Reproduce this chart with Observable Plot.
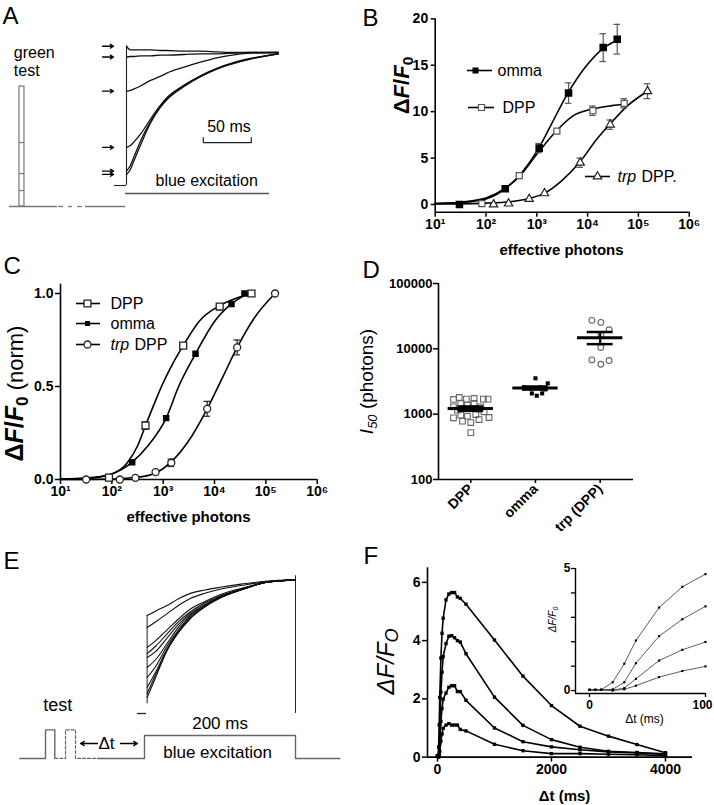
<!DOCTYPE html>
<html><head><meta charset="utf-8">
<script src="https://cdn.jsdelivr.net/npm/d3@7"></script>
<script src="https://cdn.jsdelivr.net/npm/@observablehq/plot@0.6"></script>
<style>
body{margin:0;background:#fff;}
#fig{position:relative;width:714px;height:805px;overflow:hidden;background:#fff;}
#fig svg{position:absolute;overflow:visible;}
</style></head><body><div id="fig"></div>
<script>
// ================= DATA =================
// Panel A: recorded traces (time in ms after light onset, fluorescence relative to final level)
const aTimes = [0, 4, 8, 15, 25, 35, 42, 60, 77, 94, 112, 129, 158];
const aTraces = [
  [1.047,1.02,1.02,1.02,1.02,1.015,1.015,1.01,1.01,1.005,1.0,1.0,1.0],
  [0.966,0.97,0.97,0.975,0.975,0.98,0.98,0.985,0.99,0.99,0.995,1.0,1.0],
  [0.709,0.715,0.727,0.75,0.79,0.82,0.845,0.89,0.927,0.96,0.982,0.995,1.0],
  [0.286,0.30,0.33,0.39,0.50,0.60,0.66,0.755,0.825,0.88,0.925,0.955,0.99],
  [0.108,0.15,0.22,0.34,0.48,0.59,0.652,0.748,0.82,0.877,0.92,0.952,0.99],
  [0.083,0.12,0.19,0.31,0.47,0.585,0.645,0.745,0.818,0.875,0.918,0.95,0.99]
];
const aArrowLevels = [1.047, 0.966, 0.709, 0.286, 0.108, 0.083];
const aStimBar = {t1: -111.5, t2: -106.3, f1: -0.158, f2: 0.744};
const aStimSteps = [0.323, 0.09, -0.038];
const aBaseSolid = [[-121.9, -71.9], [-42.7, -1]];
const aBaseDashes = [[-70.8, -65.6], [-60.4, -56.3], [-51, -45.8]];
const aScaleBar = [[80, 0.36], [80, 0.323], [130, 0.323], [130, 0.36]];

// Panel B: ΔF/F0 vs effective photons
const decadeTicks = [1e1, 1e2, 1e3, 1e4, 1e5, 1e6];
const bOmmaX = [30, 239, 1114, 4217, 20290, 38300];
const bOmmaY = [0, 1.7, 6.07, 12.0, 16.9, 17.8];
const bOmmaErr = [0, 0, 0.5, 1.1, 1.5, 1.6];
const bDppX = [83, 451, 2483, 12700, 52500];
const bDppY = [0.1, 3.1, 7.9, 10.1, 10.9];
const bDppErr = [0, 0, 0, 0.5, 0.5];
const bTrpX = [141, 278, 708, 1419, 7145, 27860, 151000];
const bTrpY = [0, 0.1, 0.6, 1.2, 4.5, 8.6, 12.2];
const bTrpErr = [0, 0, 0, 0, 0.5, 0.5, 0.8];
const bFitOmma = [[10,0.1],[30,0.2],[100,0.6],[240,1.7],[500,3.4],[1100,6.1],[2000,8.8],[4200,12.1],[10000,15.1],[20000,16.8],[38000,17.7]];
const bFitDpp = [[10,0.1],[30,0.25],[100,0.7],[240,1.75],[450,3.0],[1100,5.7],[2500,8.0],[5000,9.5],[12700,10.3],[30000,10.65],[52500,10.8]];
const bFitTrp = [[10,0.05],[100,0.15],[300,0.3],[700,0.65],[1400,1.2],[3000,2.5],[7100,4.6],[15000,7.0],[28000,8.7],[60000,10.6],[151000,12.2]];
const bYTicks = [0, 5, 10, 15, 20];

// Panel C: normalised
const cDppX = [88, 453, 2455, 12600, 52500];
const cDppY = [0.01, 0.29, 0.72, 0.93, 1.0];
const cDppErr = [0, 0.02, 0.01, 0, 0];
const cOmmaX = [249, 1143, 4265, 21400, 38300];
const cOmmaY = [0.093, 0.33, 0.676, 0.944, 1.0];
const cTrpX = [31.6, 143, 288, 711, 1440, 7200, 27600, 151000];
const cTrpY = [0, 0, 0.009, 0.04, 0.09, 0.38, 0.71, 1.0];
const cTrpErr = [0, 0, 0, 0, 0.02, 0.04, 0.04, 0];
const cFitDpp = [[10,0.003],[31.6,0.008],[100,0.03],[200,0.09],[316,0.18],[453,0.29],[700,0.42],[1000,0.52],[1585,0.63],[2455,0.72],[5000,0.85],[12600,0.935],[30000,0.98],[52500,1.0]];
const cFitOmma = [[10,0.002],[31.6,0.006],[100,0.03],[249,0.093],[500,0.18],[1143,0.33],[2000,0.5],[4265,0.676],[10000,0.85],[21400,0.944],[38300,0.99]];
const cFitTrp = [[10,0.0],[100,0.003],[316,0.012],[711,0.035],[1440,0.095],[3000,0.2],[7200,0.38],[15000,0.56],[27600,0.71],[60000,0.87],[151000,1.0]];
const cYTicks = [0, 0.5, 1.0];

// Panel D: I50 scatter
const dCats = ["DPP", "omma", "trp (DPP)"];
const dTicks = [100, 1000, 10000, 100000];
const dDppOff = [-0.267,-0.179,-0.067,0.051,0.195,0.267,-0.267,-0.154,-0.051,0.051,0.154,-0.205,-0.103,0.026,0.128,0.205,-0.267,-0.154,-0.051,0.077,0.282,-0.128,0,0.128,0];
const dDppVal = [1682,1803,1701,1742,1701,1701,1297,1459,1375,1459,1297,1153,1222,1222,1180,1087,879,966,932,988,889,780,745,828,522];
const dOmmaOff = [0, 0.19, -0.18, -0.09, 0.077, 0.15, -0.056, 0.02, 0.103];
const dOmmaVal = [3538, 2964, 2573, 2484, 2573, 2396, 2080, 1915, 2080];
const dTrpOff = [-0.128, 0.01, 0.138, 0.01, 0.01, -0.128, 0.01, 0.138];
const dTrpVal = [27300, 25400, 19600, 16400, 10500, 6770, 5810, 6620];
const dMean = [1220, 2510, 14800];
const dSemLo = [1130, 2380, 11800];
const dSemHi = [1310, 2650, 18100];

// Panel E: traces after different Δt (time ms from excitation onset)
const eTimes = [3.5, 15, 30, 45, 60, 80, 100, 130, 160, 200];
const eTraces = [
  [0.726,0.76,0.80,0.85,0.888,0.915,0.935,0.96,0.98,0.99],
  [0.637,0.68,0.74,0.80,0.85,0.89,0.92,0.95,0.975,0.99],
  [0.489,0.54,0.62,0.70,0.77,0.83,0.88,0.93,0.97,0.99],
  [0.444,0.50,0.59,0.68,0.75,0.82,0.87,0.925,0.97,0.99],
  [0.415,0.46,0.56,0.66,0.74,0.81,0.865,0.925,0.97,0.99],
  [0.341,0.40,0.52,0.64,0.73,0.80,0.86,0.92,0.97,0.99],
  [0.267,0.35,0.50,0.62,0.72,0.80,0.86,0.92,0.97,0.99],
  [0.193,0.31,0.48,0.61,0.71,0.795,0.857,0.92,0.97,0.99],
  [0.148,0.29,0.47,0.60,0.70,0.79,0.855,0.92,0.97,0.99],
  [0.119,0.27,0.467,0.60,0.70,0.79,0.855,0.92,0.97,0.99]
];
const eStimSolid1 = [[-165.2,-0.333],[-131.1,-0.333],[-131.1,-0.121],[-118.8,-0.121],[-118.8,-0.333]];
const eStimDashed = [[-118.8,-0.333],[-104.6,-0.333],[-104.6,-0.121],[-91.4,-0.121],[-91.4,-0.333],[-60.5,-0.333]];
const eStimSolid2 = [[-60.5,-0.333],[0,-0.333],[0,-0.163],[200,-0.163],[200,-0.333],[258.7,-0.333]];

// Panel F: ΔF/F0 vs Δt
const fT = [0,5,10,20,30,40,60,80,100,150,200,250,300,350,400,500,1000,1500,2000,2500,3000,3500,4000];
const fS1 = [0.03,0.03,0.03,0.34,1.1,2.05,3.4,4.25,4.77,5.4,5.6,5.65,5.65,5.5,5.45,5.25,4.02,2.78,1.77,1.06,0.72,0.43,0.15];
const fS2 = [0.03,0.03,0.03,0.05,0.34,1.12,2.23,2.92,3.45,3.9,4.15,4.17,4.1,4.0,3.95,3.55,2.06,1.09,0.6,0.34,0.2,0.16,0.11];
const fS3 = [0.03,0.03,0.03,0.02,0.1,0.48,1.23,1.67,1.99,2.2,2.4,2.45,2.45,2.25,2.25,1.95,1.0,0.53,0.35,0.25,0.18,0.14,0.1];
const fS4 = [0.03,0.03,0.03,0.0,0.05,0.2,0.55,0.8,0.99,1.1,1.15,1.1,1.1,1.1,0.95,0.9,0.44,0.22,0.12,0.12,0.1,0.08,0.05];
const fXTicks = [0, 2000, 4000];
const fYTicks = [0, 2, 4, 6];
const fInXTicks = [0, 100];
const fInYTicks = [0, 1, 2, 3, 4, 5];

// ================= HELPERS =================
const FONT = '"Liberation Sans", Arial, Helvetica, sans-serif';
const fig = document.getElementById("fig");
const baseStyle = {fontFamily: FONT, background: "transparent", overflow: "visible", color: "black"};
function frameBox(left, top, width, height, fx0, fx1, fy0, fy1) {
  return {width, height, marginLeft: fx0 - left, marginRight: left + width - fx1, marginTop: fy0 - top, marginBottom: top + height - fy1};
}
function place(svg, left, top) {
  svg.style.position = "absolute"; svg.style.left = left + "px"; svg.style.top = top + "px";
  fig.appendChild(svg);
}
const sup = {1:"¹",2:"²",3:"³",4:"⁴",5:"⁵",6:"⁶"};
const fmtDecade = d => "10" + sup[Math.round(Math.log10(d))];
const pts = (xs, ys, es) => xs.map((x, i) => ({x, y: ys[i], e: es ? es[i] : 0}));
function errMarks(data, capF, stroke) {
  const d = data.filter(p => p.e > 0);
  const caps = d.flatMap(p => [{x: p.x, y: p.y + p.e}, {x: p.x, y: p.y - p.e}]);
  return [
    Plot.ruleX(d, {x: "x", y1: p => p.y - p.e, y2: p => p.y + p.e, stroke, strokeWidth: 1.2}),
    Plot.ruleY(caps, {y: "y", x1: p => p.x / capF, x2: p => p.x * capF, stroke, strokeWidth: 1.2})
  ];
}
function rich(svg, plain, html) {
  svg.querySelectorAll("text").forEach(t => { if (t.textContent === plain) t.innerHTML = html; });
}

// ================= PANEL A =================
{
  const rows = aTraces.flatMap((tr, k) => tr.map((v, i) => ({k, t: aTimes[i], f: v})));
  const svg = Plot.plot({
    ...frameBox(0, 30, 300, 190, 6, 279.6, 38.7, 211.6),
    x: {domain: [-125, 160], axis: null},
    y: {domain: [-0.2, 1.1], axis: null},
    style: baseStyle,
    marks: [
      Plot.rect([aStimBar], {x1: "t1", x2: "t2", y1: "f1", y2: "f2", fill: "none", stroke: "#777", strokeWidth: 1.2}),
      Plot.ruleY(aStimSteps, {x1: () => aStimBar.t1, x2: () => aStimBar.t2, stroke: "#777", strokeWidth: 1.2}),
      Plot.ruleY(aBaseSolid, {y: () => aStimBar.f1, x1: d => d[0], x2: d => d[1], stroke: "#777", strokeWidth: 1.3}),
      Plot.ruleY(aBaseDashes, {y: () => aStimBar.f1, x1: d => d[0], x2: d => d[1], stroke: "#777", strokeWidth: 1.3}),
      Plot.ruleX([0], {y1: 0, y2: 1.05, stroke: "#222", strokeWidth: 1.1}),
      Plot.ruleY([0], {x1: -12.5, x2: 0, stroke: "#222", strokeWidth: 1.1}),
      Plot.line(rows, {x: "t", y: "f", z: "k", curve: "monotone-x", stroke: "#111", strokeWidth: 1.3}),
      Plot.arrow(aArrowLevels, {x1: () => -25, x2: () => -13.5, y1: d => d, y2: d => d, headLength: 5, strokeWidth: 1.3, stroke: "black"}),
      Plot.line(aScaleBar, {x: d => d[0], y: d => d[1], stroke: "#222", strokeWidth: 1.2}),
      Plot.ruleY([-0.06], {x1: -1, x2: 149, stroke: "#555", strokeWidth: 1.3})
    ]
  });
  place(svg, 0, 30);
}

// ================= PANEL B =================
{
  const om = pts(bOmmaX, bOmmaY, bOmmaErr), dp = pts(bDppX, bDppY, bDppErr), tr = pts(bTrpX, bTrpY, bTrpErr);
  const svg = Plot.plot({
    ...frameBox(357, 0, 357, 262, 434.7, 688.7, 18.3, 211.7),
    x: {type: "log", domain: [10, 1e6]},
    y: {domain: [-0.83, 20]},
    style: baseStyle,
    marks: [
      Plot.axisX({ticks: decadeTicks, tickFormat: fmtDecade, tickSize: 5, tickPadding: 2, fontSize: 14, fontWeight: "bold", strokeWidth: 1.5, label: null}),
      Plot.axisY({ticks: bYTicks, tickSize: 4, tickPadding: 3, fontSize: 14, fontWeight: "bold", strokeWidth: 1.5, label: null}),
      Plot.ruleX([10], {strokeWidth: 1.6}),
      Plot.ruleY([-0.83], {strokeWidth: 1.6}),
      Plot.line(bFitOmma, {x: d => d[0], y: d => d[1], curve: "monotone-x", strokeWidth: 1.6}),
      Plot.line(bFitDpp, {x: d => d[0], y: d => d[1], curve: "monotone-x", strokeWidth: 1.6}),
      Plot.line(bFitTrp, {x: d => d[0], y: d => d[1], curve: "monotone-x", strokeWidth: 1.6}),
      ...errMarks(om, 1.16, "#555"), ...errMarks(dp, 1.16, "#555"), ...errMarks(tr, 1.16, "#555"),
      Plot.dot(dp, {x: "x", y: "y", symbol: "square", r: 3.4, fill: "white", stroke: "#555", strokeWidth: 1.2}),
      Plot.dot(tr, {x: "x", y: "y", symbol: "triangle", r: 3.1, fill: "white", stroke: "#222", strokeWidth: 1.2}),
      Plot.dot(om, {x: "x", y: "y", symbol: "square", r: 3.4, fill: "black", stroke: "black"})
    ]
  });
  place(svg, 357, 0);
}

// ================= PANEL C =================
{
  const om = pts(cOmmaX, cOmmaY), dp = pts(cDppX, cDppY, cDppErr), tr = pts(cTrpX, cTrpY, cTrpErr);
  const svg = Plot.plot({
    ...frameBox(0, 255, 357, 275, 60, 316.7, 283.7, 479),
    x: {type: "log", domain: [10, 1e6]},
    y: {domain: [0, 1.05]},
    style: baseStyle,
    marks: [
      Plot.axisX({ticks: decadeTicks, tickFormat: fmtDecade, tickSize: 5, tickPadding: 2, fontSize: 14, fontWeight: "bold", strokeWidth: 1.5, label: null}),
      Plot.axisY({ticks: cYTicks, tickFormat: d => d.toFixed(1), tickSize: 5, tickPadding: 2, fontSize: 14, fontWeight: "bold", strokeWidth: 1.5, label: null}),
      Plot.ruleX([10], {strokeWidth: 1.6}),
      Plot.ruleY([0], {strokeWidth: 1.6}),
      Plot.line(cFitDpp, {x: d => d[0], y: d => d[1], curve: "monotone-x", strokeWidth: 1.6}),
      Plot.line(cFitOmma, {x: d => d[0], y: d => d[1], curve: "monotone-x", strokeWidth: 1.6}),
      Plot.line(cFitTrp, {x: d => d[0], y: d => d[1], curve: "monotone-x", strokeWidth: 1.6}),
      ...errMarks(dp, 1.16, "#222"), ...errMarks(tr, 1.16, "#222"),
      Plot.dot(dp, {x: "x", y: "y", symbol: "square", r: 3.9, fill: "white", stroke: "#222", strokeWidth: 1.3}),
      Plot.dot(tr, {x: "x", y: "y", symbol: "circle", r: 3.5, fill: "white", stroke: "#222", strokeWidth: 1.3}),
      Plot.dot(om, {x: "x", y: "y", symbol: "square", r: 2.8, fill: "black", stroke: "black"})
    ]
  });
  place(svg, 0, 255);
}

// ================= PANEL D =================
{
  const dp = dDppOff.map((o, i) => ({x: 0 + o, y: dDppVal[i]}));
  const om = dOmmaOff.map((o, i) => ({x: 1 + o, y: dOmmaVal[i]}));
  const tr = dTrpOff.map((o, i) => ({x: 2 + o, y: dTrpVal[i]}));
  const stats = dCats.map((c, i) => ({i, mean: dMean[i], lo: dSemLo[i], hi: dSemHi[i]}));
  const svg = Plot.plot({
    ...frameBox(340, 270, 374, 290, 438, 633, 283, 479),
    x: {domain: [-0.499, 2.515]},
    y: {type: "log", domain: [100, 100000]},
    style: baseStyle,
    marks: [
      Plot.axisY({ticks: dTicks, tickFormat: d => String(d), tickSize: 5, tickPadding: 1, fontSize: 13, fontWeight: "bold", strokeWidth: 1.5, label: null}),
      Plot.axisX({ticks: [0, 1, 2], tickFormat: i => dCats[i], tickRotate: -45, tickSize: 4, tickPadding: 3, fontSize: 14, fontWeight: "bold", strokeWidth: 1.5, label: null}),
      Plot.ruleX([-0.499], {strokeWidth: 1.6}),
      Plot.ruleY([100], {strokeWidth: 1.6}),
      Plot.dot(dp, {x: "x", y: "y", symbol: "square", r: 3.2, fill: "none", stroke: "#666", strokeWidth: 1.1}),
      Plot.dot(om, {x: "x", y: "y", symbol: "square", r: 2.3, fill: "black"}),
      Plot.dot(tr, {x: "x", y: "y", symbol: "circle", r: 2.9, fill: "none", stroke: "#666", strokeWidth: 1.1}),
      Plot.ruleX(stats, {x: "i", y1: "lo", y2: "hi", strokeWidth: 2.2}),
      Plot.ruleY(stats, {y: "lo", x1: d => d.i - 0.2, x2: d => d.i + 0.2, strokeWidth: 2.5}),
      Plot.ruleY(stats, {y: "hi", x1: d => d.i - 0.2, x2: d => d.i + 0.2, strokeWidth: 2.5}),
      Plot.ruleY(stats, {y: "mean", x1: d => d.i - 0.35, x2: d => d.i + 0.35, strokeWidth: 3})
    ]
  });
  place(svg, 340, 270);
}

// ================= PANEL E =================
{
  const rows = eTraces.flatMap((tr, k) => tr.map((v, i) => ({k, t: eTimes[i], f: v})));
  const svg = Plot.plot({
    ...frameBox(0, 550, 357, 230, 15.65, 341.8, 564.5, 767),
    x: {domain: [-170, 262], axis: null},
    y: {domain: [-0.4, 1.1], axis: null},
    style: baseStyle,
    marks: [
      Plot.line(eStimSolid1, {x: d => d[0], y: d => d[1], stroke: "#666", strokeWidth: 1.4}),
      Plot.line(eStimDashed, {x: d => d[0], y: d => d[1], stroke: "#666", strokeWidth: 1.2, strokeDasharray: "3,2"}),
      Plot.line(eStimSolid2, {x: d => d[0], y: d => d[1], stroke: "#666", strokeWidth: 1.4}),
      Plot.ruleX([3.5], {y1: 0.072, y2: 0.726, stroke: "#222", strokeWidth: 1}),
      Plot.ruleX([200], {y1: 0, y2: 1.02, stroke: "#222", strokeWidth: 1}),
      Plot.ruleY([0], {x1: -9.3, x2: 2.6, stroke: "#222", strokeWidth: 1.3}),
      Plot.line(rows, {x: "t", y: "f", z: "k", curve: "monotone-x", stroke: "#111", strokeWidth: 1.1})
    ]
  });
  place(svg, 0, 550);
}

// ================= PANEL F =================
const fSeries = [fS1, fS2, fS3, fS4];
{
  const rows = fSeries.flatMap((s, k) => s.map((v, i) => ({k, t: fT[i], f: v})));
  const svg = Plot.plot({
    ...frameBox(357, 540, 357, 265, 427, 692, 567.3, 756.6),
    x: {domain: [-175, 4474]},
    y: {domain: [0, 6.5]},
    style: baseStyle,
    marks: [
      Plot.axisX({ticks: fXTicks, tickSize: 5, tickPadding: 2, fontSize: 14, fontWeight: "bold", strokeWidth: 1.5, label: null, tickFormat: d => String(d)}),
      Plot.axisY({ticks: fYTicks, tickSize: 5, tickPadding: 2, fontSize: 14, fontWeight: "bold", strokeWidth: 1.5, label: null, tickFormat: d => String(d)}),
      Plot.ruleX([-175], {strokeWidth: 1.6}),
      Plot.ruleY([0], {strokeWidth: 1.6}),
      Plot.line(rows, {x: "t", y: "f", z: "k", strokeWidth: 1.6}),
      Plot.dot(rows, {x: "t", y: "f", symbol: "square", r: 1.9, fill: "black"})
    ]
  });
  place(svg, 357, 540);
}
{
  const rows = fSeries.flatMap((s, k) => s.map((v, i) => ({k, t: fT[i], f: v}))).filter(d => d.t <= 100);
  const svg = Plot.plot({
    ...frameBox(540, 560, 174, 170, 575, 705, 568, 693),
    x: {domain: [-12.07, 100]},
    y: {domain: [-0.12, 5]},
    style: baseStyle,
    marks: [
      Plot.axisX({ticks: fInXTicks, tickSize: 4, strokeWidth: 1.3, label: null, tickFormat: () => ""}),
      Plot.text([fInXTicks[0]], {x: d => d, y: () => -0.12, dy: 12, fontSize: 12, fontWeight: "bold", text: d => String(d)}),
      Plot.text([fInXTicks[1]], {x: d => d, y: () => -0.12, dy: 12, dx: -3, fontSize: 12, fontWeight: "bold", text: d => String(d)}),
      Plot.axisY({ticks: fInYTicks, tickFormat: d => (d === 0 || d === 5) ? String(d) : "", tickSize: 4, tickPadding: 1, fontSize: 12, fontWeight: "bold", strokeWidth: 1.3, label: null}),
      Plot.ruleX([-12.07], {strokeWidth: 1.4}),
      Plot.ruleY([-0.12], {strokeWidth: 1.4}),
      Plot.line(rows, {x: "t", y: "f", z: "k", stroke: "#333", strokeWidth: 0.8}),
      Plot.dot(rows, {x: "t", y: "f", symbol: "square", r: 1.2, fill: "black"})
    ]
  });
  place(svg, 540, 560);
}

// ================= ANNOTATIONS (pixel coordinates) =================
{
  const T = (x, y, text, o = {}) => Plot.text([{x, y, text}], {x: "x", y: "y", text: "text", textAnchor: "start", lineAnchor: "bottom", fontSize: 16, fill: "black", ...o});
  const legLines = [
    {x1: 467, x2: 492, y: 70}, {x1: 468, x2: 494, y: 107}, {x1: 585, x2: 610, y: 176},
    {x1: 76, x2: 100, y: 303}, {x1: 76, x2: 100, y: 323}, {x1: 76, x2: 100, y: 344}
  ];
  const svg = Plot.plot({
    width: 714, height: 805, margin: 0,
    x: {domain: [0, 714], range: [0, 714], axis: null},
    y: {domain: [0, 805], range: [0, 805], axis: null},
    style: baseStyle,
    marks: [
      // panel letters
      T(2, 23, "A", {fontSize: 24}), T(362, 25, "B", {fontSize: 24}), T(3, 273, "C", {fontSize: 24}),
      T(362, 277, "D", {fontSize: 24}), T(3, 568, "E", {fontSize: 24}), T(363, 563, "F", {fontSize: 24}),
      // A
      T(13.3, 57, "green"), T(13.3, 75.5, "test"), T(206.7, 131, "50 ms"), T(155, 185.5, "blue excitation"),
      // B
      Plot.ruleY(legLines, {y: "y", x1: "x1", x2: "x2", strokeWidth: 1.6}),
      Plot.dot([{x: 475, y: 70}], {x: "x", y: "y", symbol: "square", r: 3.4, fill: "black"}),
      Plot.dot([{x: 481, y: 107}], {x: "x", y: "y", symbol: "square", r: 3.4, fill: "white", stroke: "#555", strokeWidth: 1.2}),
      Plot.dot([{x: 597, y: 176}], {x: "x", y: "y", symbol: "triangle", r: 3.1, fill: "white", stroke: "#222", strokeWidth: 1.2}),
      T(497, 70, "omma", {lineAnchor: "middle"}), T(502, 107, "DPP", {lineAnchor: "middle"}),
      T(617, 176, "trp", {lineAnchor: "middle", fontStyle: "italic"}), T(641, 176, "DPP.", {lineAnchor: "middle"}),
      T(401, 85, "ΔF/F0", {textAnchor: "middle", lineAnchor: "middle", rotate: -90, fontSize: 22, fontWeight: "bold"}),
      T(561, 250, "effective photons", {textAnchor: "middle", lineAnchor: "middle", fontSize: 15, fontWeight: "bold"}),
      // C
      Plot.dot([{x: 87, y: 303}], {x: "x", y: "y", symbol: "square", r: 3.9, fill: "white", stroke: "#222", strokeWidth: 1.3}),
      Plot.dot([{x: 87, y: 323}], {x: "x", y: "y", symbol: "square", r: 2.8, fill: "black"}),
      Plot.dot([{x: 87, y: 344}], {x: "x", y: "y", symbol: "circle", r: 3.5, fill: "white", stroke: "#222", strokeWidth: 1.3}),
      T(110, 303, "DPP", {lineAnchor: "middle"}), T(110, 323, "omma", {lineAnchor: "middle"}),
      T(110, 344, "trp", {lineAnchor: "middle", fontStyle: "italic"}), T(134, 344, "DPP", {lineAnchor: "middle"}),
      T(15, 393, "ΔF/F0 (norm)", {textAnchor: "middle", lineAnchor: "middle", rotate: -90, fontSize: 22}),
      T(188, 517, "effective photons", {textAnchor: "middle", lineAnchor: "middle", fontSize: 15, fontWeight: "bold"}),
      // D
      T(366, 381, "I50 (photons)", {textAnchor: "middle", lineAnchor: "middle", rotate: -90, fontSize: 19}),
      // E
      T(42.7, 710, "test", {fontSize: 18}), T(191.7, 728, "200 ms", {fontSize: 17}),
      T(98, 748, "Δt", {fontSize: 17}), T(162.7, 757, "blue excitation", {fontSize: 17}),
      Plot.arrow([{x1: 97, x2: 80, y: 743}, {x1: 120, x2: 137, y: 743}], {x1: "x1", x2: "x2", y1: "y", y2: "y", headLength: 5, strokeWidth: 1.3, stroke: "black"}),
      // F
      T(385.5, 661, "ΔF/FO", {textAnchor: "middle", lineAnchor: "middle", rotate: -90, fontSize: 24, fontStyle: "italic"}),
      T(564, 796, "Δt (ms)", {textAnchor: "middle", lineAnchor: "middle", fontSize: 15, fontWeight: "bold"}),
      T(644, 718.5, "Δt (ms)", {textAnchor: "middle", lineAnchor: "middle", fontSize: 12}),
      T(552, 619, "ΔF/F0", {textAnchor: "middle", lineAnchor: "middle", rotate: -90, fontSize: 10, fontStyle: "italic"})
    ]
  });
  place(svg, 0, 0);
  const F0 = 'Δ<tspan font-style="italic">F</tspan>/<tspan font-style="italic">F</tspan><tspan font-size="70%" dy="0.3em">0</tspan>';
  rich(svg, "ΔF/F0", F0);
  rich(svg, "ΔF/F0 (norm)", '<tspan font-weight="bold" font-size="25px">Δ<tspan font-style="italic">F</tspan>/<tspan font-style="italic">F</tspan><tspan font-size="17px" dy="5">0</tspan></tspan><tspan dy="-5"> (norm)</tspan>');
  rich(svg, "I50 (photons)", '<tspan font-style="italic">I</tspan><tspan font-style="italic" font-size="13px" dy="4">50</tspan><tspan dy="-4"> (photons)</tspan>');
  rich(svg, "ΔF/FO", 'ΔF/F<tspan font-size="75%" dy="4">O</tspan>');
}
</script></body></html>
